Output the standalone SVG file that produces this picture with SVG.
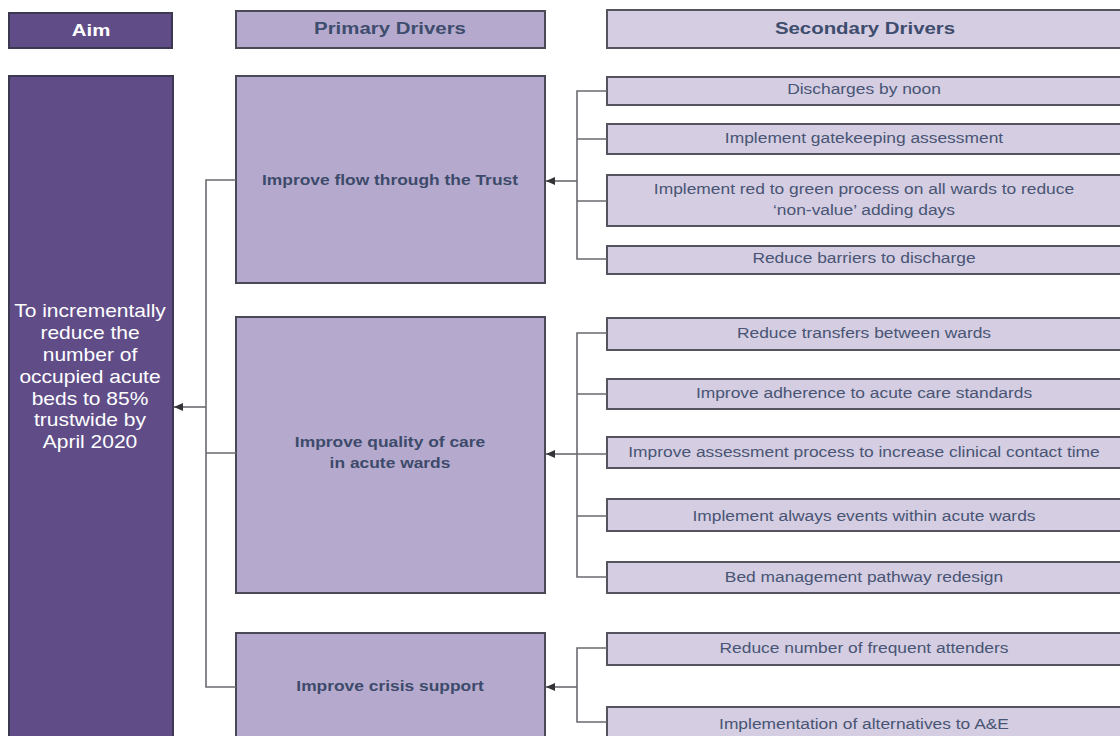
<svg xmlns="http://www.w3.org/2000/svg" width="1120" height="736" viewBox="0 0 1120 736">
<style>
.aim{fill:#604d88;stroke:#3d3852;stroke-width:2}
.pri{fill:#b5aacd;stroke:#4a4956;stroke-width:2}
.sec{fill:#d5cde2;stroke:#54535e;stroke-width:2}
.con{fill:none;stroke:#6a6a70;stroke-width:1.6}
text{font-family:"Liberation Sans",Arial,sans-serif;text-anchor:middle}
.th{font-size:17px;font-weight:bold;fill:#3e4c6d}
.thw{font-size:17px;font-weight:bold;fill:#ffffff}
.ta{font-size:17.5px;fill:#ffffff}
.tp{font-size:14.5px;font-weight:bold;fill:#3d4a6b}
.ts{font-size:14.5px;fill:#485574}
</style>
<defs>
<marker id="ah" markerUnits="userSpaceOnUse" markerWidth="10" markerHeight="10" refX="9" refY="4" orient="auto">
<path d="M0,0 L9,4 L0,8 z" fill="#333338"/>
</marker>
</defs>
<rect width="1120" height="736" fill="#ffffff"/>

<g id="hdr-aim"><rect class="aim" x="9" y="13" width="163" height="35"/><text class="thw" transform="translate(91,36) scale(1.2,1)">Aim</text></g>
<g id="hdr-primary"><rect class="pri" x="236" y="11" width="309" height="37"/><text class="th" transform="translate(390,34) scale(1.2,1)">Primary Drivers</text></g>
<g id="hdr-secondary"><rect class="sec" x="607" y="10" width="516" height="38"/><text class="th" transform="translate(865,34) scale(1.2,1)">Secondary Drivers</text></g>

<g id="aim">
<rect class="aim" x="9" y="76" width="164" height="670"/>
<g transform="translate(90,0) scale(1.2,1)">
<text class="ta" x="0" y="317">To incrementally</text>
<text class="ta" x="0" y="339">reduce the</text>
<text class="ta" x="0" y="361">number of</text>
<text class="ta" x="0" y="383">occupied acute</text>
<text class="ta" x="0" y="405">beds to 85%</text>
<text class="ta" x="0" y="426">trustwide by</text>
<text class="ta" x="0" y="448">April 2020</text>
</g>
</g>

<g id="p1"><rect class="pri" x="236" y="76" width="309" height="207"/><text class="tp" transform="translate(390,185) scale(1.2,1)">Improve flow through the Trust</text></g>
<g id="p2"><rect class="pri" x="236" y="317" width="309" height="276"/>
<g transform="translate(390,0) scale(1.2,1)"><text class="tp" x="0" y="447">Improve quality of care</text><text class="tp" x="0" y="468">in acute wards</text></g></g>
<g id="p3"><rect class="pri" x="236" y="633" width="309" height="113"/><text class="tp" transform="translate(390,691) scale(1.2,1)">Improve crisis support</text></g>

<g id="s1"><rect class="sec" x="607" y="77" width="516" height="28"/><text class="ts" transform="translate(864,94) scale(1.2,1)">Discharges by noon</text></g>
<g id="s2"><rect class="sec" x="607" y="124" width="516" height="30"/><text class="ts" transform="translate(864,143) scale(1.2,1)">Implement gatekeeping assessment</text></g>
<g id="s3"><rect class="sec" x="607" y="175" width="516" height="51"/>
<g transform="translate(864,0) scale(1.2,1)"><text class="ts" x="0" y="194">Implement red to green process on all wards to reduce</text><text class="ts" x="0" y="215">‘non-value’ adding days</text></g></g>
<g id="s4"><rect class="sec" x="607" y="246" width="516" height="28"/><text class="ts" transform="translate(864,263) scale(1.2,1)">Reduce barriers to discharge</text></g>

<g id="s5"><rect class="sec" x="607" y="318" width="516" height="32"/><text class="ts" transform="translate(864,338) scale(1.2,1)">Reduce transfers between wards</text></g>
<g id="s6"><rect class="sec" x="607" y="379" width="516" height="30"/><text class="ts" transform="translate(864,398) scale(1.2,1)">Improve adherence to acute care standards</text></g>
<g id="s7"><rect class="sec" x="607" y="437" width="516" height="31"/><text class="ts" transform="translate(864,457) scale(1.2,1)">Improve assessment process to increase clinical contact time</text></g>
<g id="s8"><rect class="sec" x="607" y="499" width="516" height="32"/><text class="ts" transform="translate(864,521) scale(1.2,1)">Implement always events within acute wards</text></g>
<g id="s9"><rect class="sec" x="607" y="562" width="516" height="31"/><text class="ts" transform="translate(864,582) scale(1.2,1)">Bed management pathway redesign</text></g>

<g id="s10"><rect class="sec" x="607" y="633" width="516" height="32"/><text class="ts" transform="translate(864,653) scale(1.2,1)">Reduce number of frequent attenders</text></g>
<g id="s11"><rect class="sec" x="607" y="707" width="516" height="40"/><text class="ts" transform="translate(864,729) scale(1.2,1)">Implementation of alternatives to A&amp;E</text></g>

<g id="connectors">
<path class="con" d="M236,180 H206 V687 H236 M206,453 H236"/>
<path class="con" d="M206,407 H174" marker-end="url(#ah)"/>
<path class="con" d="M607,91 H577 V259 H607 M577,139 H607 M577,201 H607"/>
<path class="con" d="M577,181 H546" marker-end="url(#ah)"/>
<path class="con" d="M607,333 H577 V577 H607 M577,394 H607 M577,454 H607 M577,516 H607"/>
<path class="con" d="M577,454 H546" marker-end="url(#ah)"/>
<path class="con" d="M607,648 H577 V722 H607"/>
<path class="con" d="M577,687 H546" marker-end="url(#ah)"/>
</g>
</svg>
